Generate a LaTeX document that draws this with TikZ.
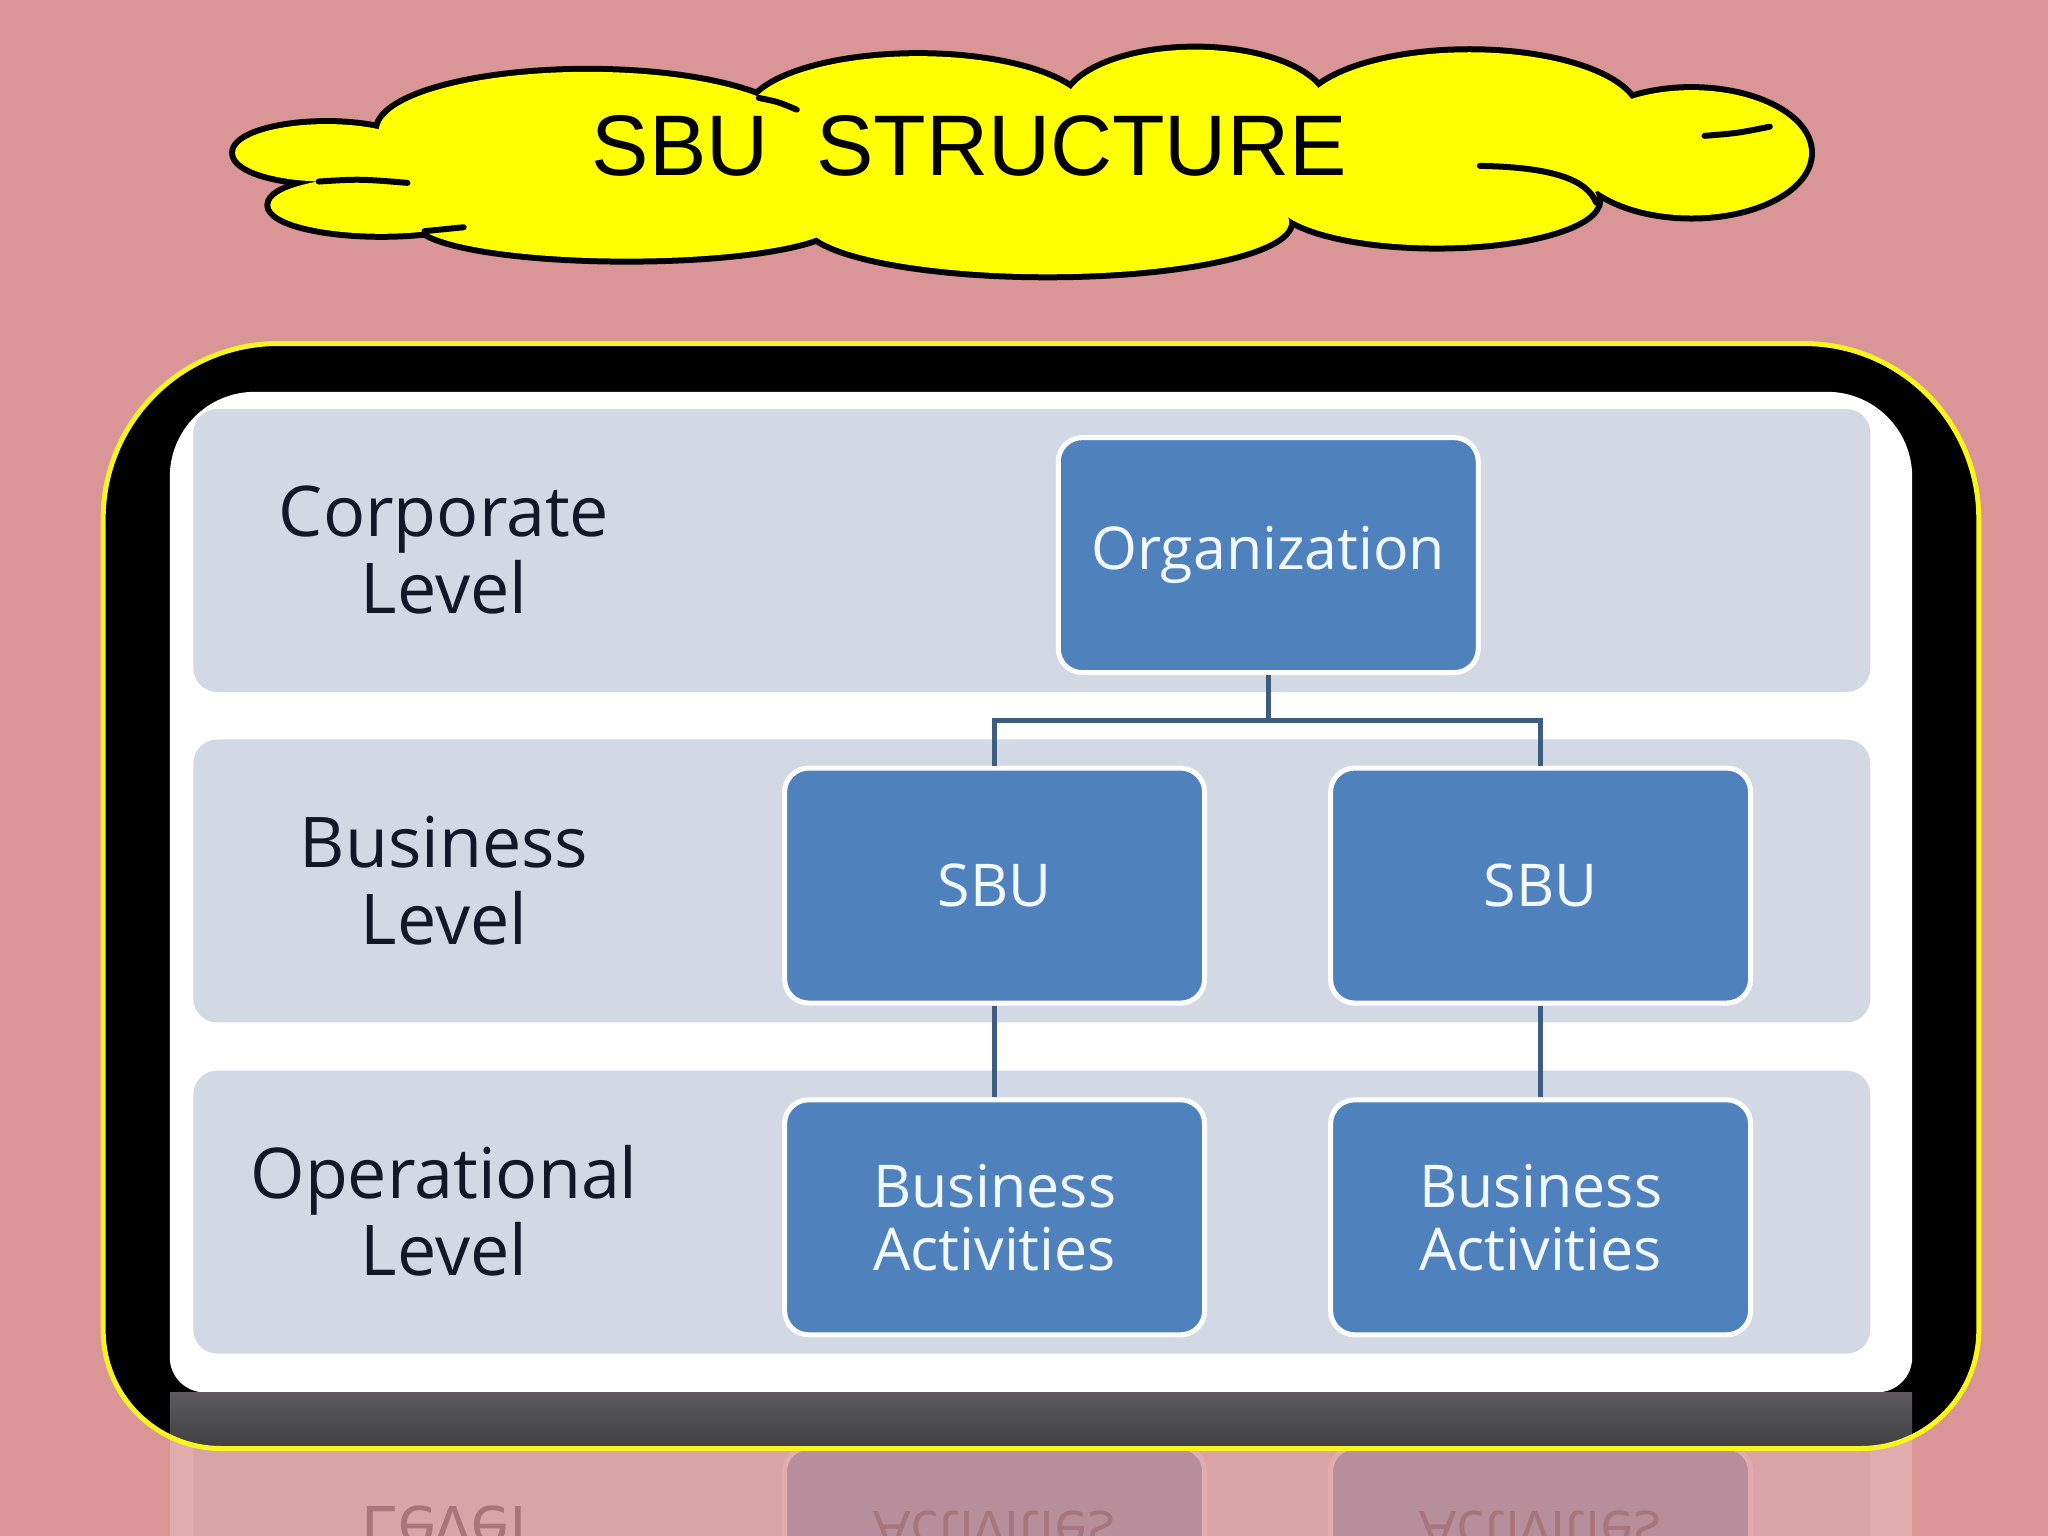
\documentclass[tikz,border=0pt]{standalone}
\usepackage{fontspec}
\setmainfont{Open Sans}
\newfontfamily\titlefont{Liberation Sans}
\definecolor{bgpink}{RGB}{218,149,150}
\definecolor{lanecol}{RGB}{211,216,229}
\definecolor{boxblue}{RGB}{79,129,189}
\definecolor{connblue}{RGB}{62,92,128}
\definecolor{labelcol}{RGB}{18,24,40}
\definecolor{boxtext}{RGB}{242,248,255}
\definecolor{cloudyellow}{RGB}{255,255,0}
\definecolor{frameyellow}{RGB}{250,245,30}
\definecolor{framegrayA}{RGB}{92,90,93}
\definecolor{framegrayB}{RGB}{62,62,64}
\definecolor{reflpanel}{RGB}{226,172,174}
\definecolor{refllane}{RGB}{216,164,168}
\definecolor{reflbox}{RGB}{182,142,156}
\definecolor{refltext}{RGB}{168,118,122}
\newcommand\frameoutline{(79,700) [rounded corners=175pt] -- (79,263) -- (1515,263) -- (1515,700) [rounded corners=118pt] -- (1515,1109) -- (79,1109) -- cycle}
\begin{document}
\begin{tikzpicture}[x=1.30612pt,y=-1.30612pt,
  lanebox/.style={fill=lanecol, rounded corners=24pt, minimum width=1677pt, minimum height=283pt, inner sep=0pt},
  unitbox/.style={fill=boxblue, draw=white, line width=5pt, rounded corners=24pt, minimum width=420pt, minimum height=235pt, text=boxtext, align=center, inner sep=0pt, font=\fontsize{59}{63}\selectfont},
  levellabel/.style={text=labelcol, align=center, inner sep=0pt, font=\fontsize{70}{77}\selectfont},
  conn/.style={draw=connblue, line width=5pt},
  cloudedge/.style={draw=black, line width=12pt},
  cloudfrag/.style={draw=black, line width=6pt, line cap=round}]
\useasboundingbox (0,0) rectangle (1568,1176);
\fill[bgpink] (0,0) rectangle (1568,1176);

% ---- reflection under the frame
\begin{scope}
  \clip (0,1100) rectangle (1568,1176);
  \fill[reflpanel] (130,1066) rectangle (1464,1176);
  \begin{scope}[shift={(0,2130)}, yscale=-1, transform shape]
    \node[lanebox, fill=refllane] (rlane) at (790,928) {};
    \node[levellabel, text=refltext] (rop) at (340,927) {Operational\\Level};
    \node[unitbox, fill=reflbox, draw=reflpanel, text=refltext] (rba1) at (761.5,932) {Business\\Activities};
    \node[unitbox, fill=reflbox, draw=reflpanel, text=refltext] (rba2) at (1179.5,932) {Business\\Activities};
  \end{scope}
\end{scope}

% ---- frame
\fill[black] \frameoutline;
\fill[white] (130,700) [rounded corners=85pt] -- (130,300) -- (1464,300) -- (1464,700) [rounded corners=35pt] -- (1464,1066) -- (130,1066) -- cycle;
\begin{scope}
  \clip \frameoutline;
  \shade[top color=framegrayA, bottom color=framegrayB] (130,1066) rectangle (1464,1112);
\end{scope}
\draw[frameyellow, line width=5pt] \frameoutline;

% ---- lanes
\node[lanebox] (lane1) at (790,421.5) {};
\node[lanebox] (lane2) at (790,674.5) {};
\node[lanebox] (lane3) at (790,928) {};
\node[levellabel] (corp) at (340,421) {Corporate\\Level};
\node[levellabel] (bus) at (340,674) {Business\\Level};
\node[levellabel] (oper) at (340,927) {Operational\\Level};

% ---- boxes
\node[unitbox] (org) at (971,425) {Organization};
\node[unitbox] (sbu1) at (761.5,678) {SBU};
\node[unitbox] (sbu2) at (1179.5,678) {SBU};
\node[unitbox] (ba1) at (761.5,932) {Business\\Activities};
\node[unitbox] (ba2) at (1179.5,932) {Business\\Activities};

% ---- connectors
\draw[conn] (org.south) -- ++(0,35) coordinate (busbar) -| (sbu1.north);
\draw[conn] (busbar) -| (sbu2.north);
\draw[conn] (sbu1.south) -- (ba1.north);
\draw[conn] (sbu2.south) -- (ba2.north);

% ---- title cloud
\foreach \cx/\cy/\rx/\ry in {250/117/70/22, 292/157/85/22, 450/100/160/45, 480/170/160/28, 703/88/130/45, 915/82/100/44, 1125/88/128/48, 1295/117/90/48, 1100/153/123/35, 802/170/185/40}
  \draw[cloudedge] (\cx,\cy) ellipse [x radius=\rx, y radius=\ry];
\foreach \cx/\cy/\rx/\ry in {250/117/70/22, 292/157/85/22, 450/100/160/45, 480/170/160/28, 703/88/130/45, 915/82/100/44, 1125/88/128/48, 1295/117/90/48, 1100/153/123/35, 802/170/185/40}
  \fill[cloudyellow] (\cx,\cy) ellipse [x radius=\rx, y radius=\ry];
\fill[cloudyellow] (240,138) -- (220,118) -- (320,100) -- (450,75) -- (575,85) -- (700,60) -- (830,75) -- (915,58) -- (1010,80) -- (1125,62) -- (1245,95) -- (1295,90) -- (1360,118) -- (1290,140) -- (1230,143) -- (1215,150) -- (1100,175) -- (985,160) -- (800,195) -- (620,172) -- (500,185) -- (300,165) -- cycle;
\draw[cloudfrag] (244,139) .. controls (275,137) .. (312,140);
\draw[cloudfrag] (1133,127) .. controls (1190,128) and (1215,138) .. (1222,155);
\draw[cloudfrag] (1305,104) .. controls (1330,102) .. (1355,97);
\draw[cloudfrag] (581,75) .. controls (596,78) .. (610,84);
\draw[cloudfrag] (325,177) .. controls (340,176) .. (355,174);
\node[font=\titlefont\fontsize{86}{90}\selectfont, text=black] (title) at (742,112) {SBU\ \ STRUCTURE};
\end{tikzpicture}
\end{document}
